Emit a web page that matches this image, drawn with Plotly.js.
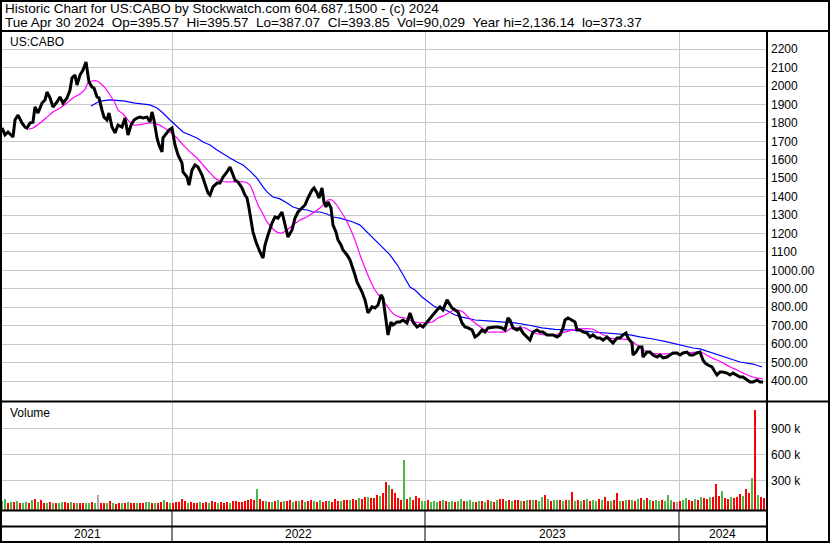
<!DOCTYPE html>
<html>
<head>
<meta charset="utf-8">
<script src="https://cdn.plot.ly/plotly-3.0.1.min.js"></script>
<style>
html,body{margin:0;padding:0;background:#fff;}
#chart{width:830px;height:543px;}
</style>
</head>
<body>
<div id="chart"></div>
<script>
// ---- Data (trading-day index from first bar; years start at the listed indices) ----
const yearLabels = ['2021', '2022', '2023', '2024'];
const yearStartDay = [0, 170, 423, 677];
const lastDay = 764;

const priceDays = [
  0,3,6,11,13,16,20,23,25,28,
  31,33,36,40,43,45,48,51,55,58,
  61,65,68,70,73,75,78,81,84,85,
  87,90,92,95,97,100,102,105,107,110,
  113,116,120,123,126,129,132,135,138,141,
  145,148,150,152,155,157,160,161,165,167,
  170,171,173,176,180,181,185,187,190,193,
  196,200,203,206,208,211,215,218,221,225,
  228,230,233,236,240,243,245,247,249,251,
  254,256,258,261,263,266,270,273,276,280,
  283,286,290,293,296,300,303,306,310,312,
  315,317,320,322,324,326,329,331,334,336,
  339,341,345,348,351,353,355,358,360,363,
  366,370,373,376,379,381,383,385,386,389,
  391,395,398,401,405,408,411,415,418,421,
  425,428,431,435,438,441,445,447,450,453,
  456,460,463,466,470,473,476,480,483,486,
  490,493,496,500,503,506,508,511,515,518,
  521,525,528,531,535,538,541,545,548,551,
  555,558,561,563,566,570,573,575,578,581,
  585,588,591,595,598,601,605,608,611,615,
  618,621,624,626,630,631,634,637,640,641,
  645,648,651,655,658,661,665,668,671,675,
  678,681,685,688,691,695,698,701,703,706,
  710,713,715,718,721,725,728,731,735,738,
  741,745,748,751,755,758,761
];
const priceClose = [
  1773,1735,1751,1724,1816,1843,1800,1778,1773,1800,
  1805,1887,1854,1908,1925,1968,1936,1887,1914,1941,
  1908,1936,1979,2044,2060,2006,2060,2087,2131,2098,
  2022,1995,1990,1941,1936,1870,1832,1816,1854,1778,
  1746,1789,1778,1827,1735,1789,1816,1827,1832,1827,
  1832,1805,1860,1816,1719,1681,1643,1719,1746,1762,
  1773,1735,1681,1626,1583,1534,1507,1463,1545,1572,
  1561,1518,1474,1420,1409,1453,1474,1474,1507,1534,
  1561,1534,1491,1480,1447,1409,1393,1339,1284,1208,
  1154,1122,1100,1067,1138,1192,1257,1290,1284,1317,
  1246,1181,1219,1284,1317,1339,1355,1393,1436,1447,
  1420,1393,1447,1371,1344,1371,1339,1246,1208,1165,
  1138,1111,1084,1057,1013,975,937,905,883,840,
  769,802,796,812,867,850,758,693,650,720,
  704,720,720,731,715,769,720,693,704,693,
  720,742,758,785,802,785,840,823,796,785,
  774,715,693,688,677,639,650,677,666,688,
  693,693,693,688,677,742,731,688,677,688,
  660,639,622,666,677,666,666,650,650,650,
  639,650,688,731,742,731,720,677,677,666,
  660,639,650,633,633,622,639,622,606,633,
  633,650,660,633,606,541,557,584,584,530,
  557,557,541,530,541,525,530,541,552,552,
  541,552,557,541,541,552,557,514,498,487,
  476,449,433,449,449,443,433,443,433,422,
  422,405,395,395,405,395,394
];

const maShortDays = [
  27,31,38,45,51,58,65,71,78,83,
  86,90,95,98,103,108,113,116,121,126,
  131,135,141,148,155,161,168,175,181,188,
  195,201,208,213,218,225,231,238,243,248,
  251,256,261,265,270,275,280,285,291,298,
  305,311,318,323,326,330,333,338,343,348,
  353,358,363,368,373,378,383,388,393,398,
  403,413,423,430,436,443,450,456,461,466,
  473,480,486,496,503,510,516,523,530,536,
  546,556,566,575,590,598,608,618,628,635,
  645,655,665,675,685,695,701,708,715,721,
  728,735,741,748,755,761
];
const maShort = [
  1767,1773,1800,1832,1860,1881,1908,1936,1957,1984,
  2017,2028,2028,2017,1990,1952,1908,1870,1849,1816,
  1789,1789,1794,1800,1794,1778,1751,1719,1681,1643,
  1610,1572,1529,1501,1485,1480,1480,1480,1480,1463,
  1426,1355,1306,1263,1230,1208,1203,1219,1246,1274,
  1290,1312,1339,1366,1382,1382,1366,1328,1284,1230,
  1165,1084,1013,948,894,856,823,785,758,747,
  742,720,715,720,742,758,780,785,774,747,
  715,688,666,666,666,688,688,688,666,655,
  650,655,671,682,682,660,633,628,622,595,
  557,547,547,547,552,557,552,530,514,498,
  476,460,443,427,416,411
];

const maLongDays = [
  89,93,98,108,123,133,141,148,155,161,
  168,175,181,188,195,201,208,215,221,228,
  235,241,248,255,261,265,271,278,285,291,
  298,305,311,318,325,331,338,345,351,358,
  363,368,375,381,388,393,396,408,413,420,
  426,433,440,446,453,460,473,486,500,513,
  526,540,553,566,578,591,605,618,628,638,
  651,665,678,691,698,711,725,738,751,760
];
const maLong = [
  1892,1903,1919,1925,1919,1908,1903,1898,1881,1854,
  1816,1778,1751,1735,1719,1697,1681,1653,1632,1610,
  1588,1572,1539,1501,1453,1426,1398,1388,1366,1344,
  1333,1328,1317,1317,1306,1290,1284,1274,1263,1246,
  1219,1192,1154,1122,1084,1046,1024,910,894,856,
  829,802,796,780,758,747,731,726,720,715,
  704,688,680,677,675,666,660,655,650,639,
  628,612,595,579,574,552,525,503,492,476
];

// Volume in thousands, one bar per 3 trading days starting at day 0
const volume = [
  55,78,40,45,50,60,35,30,45,35,
  70,78,50,75,35,30,45,35,40,30,
  45,50,35,45,30,40,30,35,40,30,
  45,30,128,40,35,40,55,30,25,35,
  40,30,45,35,30,40,35,30,45,50,
  35,40,30,45,70,45,30,40,50,45,
  78,60,40,45,35,40,50,35,45,40,
  55,45,40,50,35,45,40,55,60,50,
  45,60,75,80,75,198,80,60,55,45,
  50,60,65,50,60,55,70,50,60,55,
  65,45,55,75,60,50,65,45,55,60,
  50,78,55,60,70,65,75,80,70,95,
  80,100,110,90,95,128,120,150,277,245,
  195,152,93,70,537,80,109,70,120,90,
  60,55,65,50,60,45,55,65,60,50,
  55,45,60,78,60,55,65,50,45,60,
  55,50,65,60,50,70,78,80,60,70,
  55,65,75,60,55,70,65,70,70,60,
  101,128,80,60,75,65,70,60,75,70,
  167,60,70,55,65,78,60,70,55,78,
  65,109,55,60,70,148,60,55,70,65,
  75,60,80,93,70,90,65,55,70,60,
  75,60,128,65,50,45,60,70,90,75,
  60,80,70,100,90,85,110,100,257,120,
  175,95,80,110,90,100,140,120,198,150,
  327,1120,130,110,90
];
// g = up day (green), r = down day (red), n = unchanged (grey)
const volumeDir = (
  'ggrgrgrggr' + 'grgrrgrgrg' + 'grrgrgrrgg' + 'rgnrrgrgrr' + 'grgrrgrrgg' +
  'rgrrgrgrrr' + 'rrgrrrgrrg' + 'rrgrrrgrrr' + 'rrrrrgrrgr' + 'grgrgrrgrg' +
  'rgrrgrgrrg' + 'rrrgrrgrrg' + 'rrgrrrgrrg' + 'rrrrgrgrrr' + 'ggrgggrgrg' +
  'grggrgggrg' + 'rgrgrgrrgr' + 'grrgrgrgrg' + 'grgrggrgrg' + 'rgrgrgrggr' +
  'grrgrrgrgr' + 'grgrgrgrgg' + 'rgggrnrggr' + 'rgrgrrgrrr' + 'grrgrrrgrr' +
  'grgrr'
).split('');

const priceTicks = [400,500,600,700,800,900,1000,1100,1200,1300,1400,1500,1600,1700,1800,1900,2000,2100,2200];
const priceTickText = ['400.00','500.00','600.00','700.00','800.00','900.00','1000.00','1100','1200','1300','1400','1500','1600','1700','1800','1900','2000','2100','2200'];
const volTicks = [300, 600, 900];
const volTickText = ['300 k', '600 k', '900 k'];

const header1 = 'Historic Chart for US:CABO by Stockwatch.com 604.687.1500 - (c) 2024';
const header2 = 'Tue Apr 30 2024  Op=395.57  Hi=395.57  Lo=387.07  Cl=393.85  Vol=90,029  Year hi=2,136.14  lo=373.37';

// ---- Layout helpers (pixel -> paper) ----
const W = 830, H = 543, ML = 2, MR = 64, MT = 32, MB = 33;
const PW = W - ML - MR, PH = H - MT - MB;
const px = v => (v - ML) / PW;
const py = v => (H - MB - v) / PH;
const FONT = 'Liberation Sans, Arial, Helvetica, sans-serif';

const volBase = -46.7;
const colMap = {g: '#4cb84c', r: '#ff0000', n: '#a8a8a8'};

const traces = [
  {
    type: 'bar', x0: 0, dx: 3, y: volume.map(v => v - volBase), base: volBase,
    width: 2.5, marker: {color: volumeDir.map(c => colMap[c]), line: {width: 0}},
    xaxis: 'x2', yaxis: 'y2', hoverinfo: 'skip'
  },
  {
    type: 'scatter', mode: 'lines', x: maLongDays, y: maLong,
    line: {color: '#0000ff', width: 1.2}, xaxis: 'x', yaxis: 'y', hoverinfo: 'skip'
  },
  {
    type: 'scatter', mode: 'lines', x: maShortDays, y: maShort,
    line: {color: '#ff00ff', width: 1.2, shape: 'spline', smoothing: 0.6}, xaxis: 'x', yaxis: 'y', hoverinfo: 'skip'
  },
  {
    type: 'scatter', mode: 'lines', x: priceDays, y: priceClose,
    line: {color: '#000000', width: 3}, xaxis: 'x', yaxis: 'y', hoverinfo: 'skip'
  }
];

const gridColor = '#c8c8c8';
const xBase = {
  range: [0, lastDay], tickmode: 'array', tickvals: yearStartDay.slice(1),
  showticklabels: false, ticks: '', showgrid: true, gridcolor: gridColor, gridwidth: 1,
  zeroline: false, showline: false, fixedrange: true
};

const shapes = [];
const L = (x0, y0, x1, y1, w) => shapes.push({type: 'line', xref: 'paper', yref: 'paper',
  x0: px(x0), y0: py(y0), x1: px(x1), y1: py(y1), line: {color: '#000', width: w}});
L(1, 0, 1, H, 2);          // left border
L(0, 1, W, 1, 2);          // top border
L(829, 0, 829, H, 2);      // right border
L(0, 542, W, 542, 2);      // bottom border
L(0, 31, W, 31, 2);        // header separator
L(767, 31, 767, 542, 2);   // plot / axis divider
L(0, 401.5, W, 401.5, 2);  // price / volume separator
L(0, 510.5, 767, 510.5, 2);
L(0, 526.5, 767, 526.5, 2);
yearStartDay.slice(1).forEach(d => shapes.push({type: 'line', xref: 'x', yref: 'paper',
  x0: d, x1: d, y0: py(511), y1: py(542), line: {color: '#000', width: 1}}));

const annotations = [
  {text: header1.replace(/  /g, '\u00a0\u00a0'), xref: 'paper', yref: 'paper', x: px(3), y: py(8),
   xanchor: 'left', yanchor: 'middle', showarrow: false, font: {family: FONT, size: 13.5, color: '#000'}},
  {text: header2.replace(/  /g, '\u00a0\u00a0'), xref: 'paper', yref: 'paper', x: px(3), y: py(22),
   xanchor: 'left', yanchor: 'middle', showarrow: false, font: {family: FONT, size: 13.5, color: '#000'}},
  {text: 'US:CABO', xref: 'paper', yref: 'paper', x: px(8), y: py(42),
   xanchor: 'left', yanchor: 'middle', showarrow: false, font: {family: FONT, size: 12, color: '#000'}},
  {text: 'Volume', xref: 'paper', yref: 'paper', x: px(8), y: py(413),
   xanchor: 'left', yanchor: 'middle', showarrow: false, font: {family: FONT, size: 12, color: '#000'}}
];
yearLabels.forEach((t, i) => {
  const a = yearStartDay[i], b = (i + 1 < yearStartDay.length) ? yearStartDay[i + 1] : lastDay;
  annotations.push({text: t, xref: 'x', yref: 'paper', x: (a + b) / 2, y: py(534),
    xanchor: 'center', yanchor: 'middle', showarrow: false, font: {family: FONT, size: 12, color: '#000'}});
});

const layout = {
  width: W, height: H,
  margin: {l: ML, r: MR, t: MT, b: MB, pad: 0},
  paper_bgcolor: '#fff', plot_bgcolor: '#fff',
  showlegend: false, hovermode: false, bargap: 0,
  font: {family: FONT, size: 12, color: '#000'},
  xaxis: Object.assign({}, xBase, {domain: [0, 1], anchor: 'y'}),
  xaxis2: Object.assign({}, xBase, {domain: [0, 1], anchor: 'y2', matches: 'x'}),
  yaxis: {
    domain: [py(400), 1], range: [400 + (381 - 400) * 5.426, 400 + (381 - 32) * 5.426],
    side: 'right', anchor: 'x', tickmode: 'array', tickvals: priceTicks, ticktext: priceTickText,
    ticks: '', ticklabelstandoff: 4, showgrid: true, gridcolor: gridColor, gridwidth: 1,
    zeroline: false, showline: false, tickfont: {family: FONT, size: 12, color: '#000'}, fixedrange: true
  },
  yaxis2: {
    domain: [0, py(403)], range: [volBase, 1202.3],
    side: 'right', anchor: 'x2', tickmode: 'array', tickvals: volTicks, ticktext: volTickText,
    ticks: '', ticklabelstandoff: 4, showgrid: true, gridcolor: gridColor, gridwidth: 1,
    zeroline: false, showline: false, tickfont: {family: FONT, size: 12, color: '#000'}, fixedrange: true
  },
  shapes: shapes,
  annotations: annotations
};

Plotly.newPlot('chart', traces, layout, {staticPlot: true, displayModeBar: false});
</script>
</body>
</html>
